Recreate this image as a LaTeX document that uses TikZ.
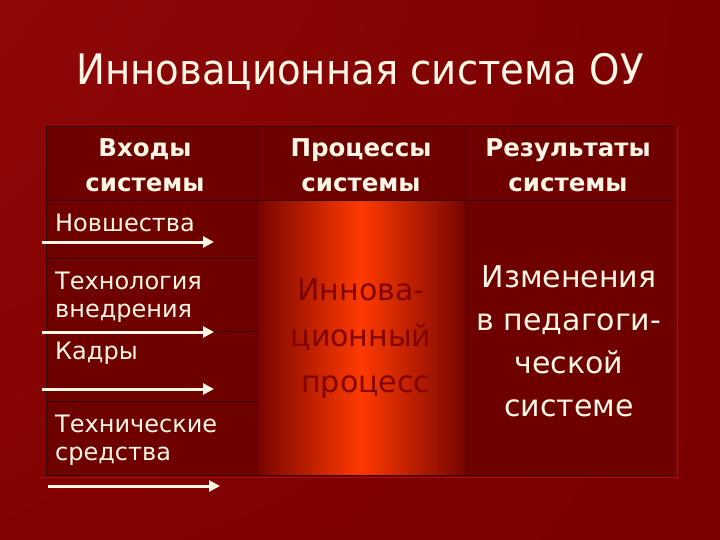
\documentclass[tikz,border=0pt]{standalone}
\usepackage{fontspec}
\setmainfont{DejaVu Sans}
\newfontfamily\titlefont{DejaVu Sans}[FakeStretch=0.92]
\usetikzlibrary{arrows.meta,shadings}
\definecolor{bgred}{HTML}{7A0000}
\definecolor{bglight}{HTML}{900808}
\definecolor{bgmid}{HTML}{820202}
\definecolor{cellred}{HTML}{6E0000}
\definecolor{gridline}{HTML}{3A0000}
\definecolor{hiline}{HTML}{A01010}
\definecolor{cream}{HTML}{FFF6E6}
\definecolor{hot}{HTML}{FF3A00}
\definecolor{edge}{HTML}{780400}
\definecolor{dimred}{HTML}{800400}
\tikzset{
  grid/.style={draw=gridline, line width=1pt},
  lefttxt/.style={anchor=west, text=cream, font=\fontsize{24}{28}\selectfont, inner sep=0pt, align=left},
  headtxt/.style={text=cream, font=\bfseries\fontsize{24.5}{35}\selectfont, inner sep=0pt, align=center},
  inarrow/.style={draw=cream, line width=3pt, -{Triangle[length=11pt,width=11pt]}},
}
\begin{document}
\begin{tikzpicture}[x=1pt,y=-1pt]
\useasboundingbox (0,0) rectangle (720,540);
% background
\shade[upper left=bglight, upper right=bgred, lower left=bgmid, lower right=bgred] (0,0) rectangle (720,540);
% title
\node[text=cream, font=\titlefont\fontsize{42}{48}\selectfont, inner sep=0pt] (title) at (360,72) {Инновационная система ОУ};
% table cells
\fill[cellred] (46,127) rectangle (673,475);
\shade[left color=edge, right color=hot] (257,201) rectangle (361,475);
\shade[left color=hot, right color=edge] (360,201) rectangle (465,475);
% grid
\draw[grid] (46,127) rectangle (673,475);
\draw[grid] (257,127) -- (257,475);
\draw[grid] (465,127) -- (465,475);
\draw[grid] (46,201) -- (673,201);
\draw[grid] (46,258) -- (257,258);
\draw[grid] (46,331) -- (257,331);
\draw[grid] (46,401) -- (257,401);
\draw[hiline, line width=0.6pt] (677,127) -- (677,477) -- (40,477);
% headers
\node[headtxt] (h1) at (145,165) {Входы\\системы};
\node[headtxt] (h2) at (361,165) {Процессы\\системы};
\node[headtxt] (h3) at (568,165) {Результаты\\системы};
% left column
\node[lefttxt, anchor=base west] (n1) at (55,232) {Новшества};
\node[lefttxt] (n2) at (55,297) {Технология\\внедрения};
\node[lefttxt] (n3) at (55,353) {Кадры};
\node[lefttxt] (n4) at (55,440) {Технические\\средства};
% arrows
\coordinate (a1s) at (42,242); \coordinate (a1e) at (214,242);
\coordinate (a2s) at (42,332); \coordinate (a2e) at (214,332);
\coordinate (a3s) at (42,389); \coordinate (a3e) at (214,389);
\coordinate (a4s) at (48,486); \coordinate (a4e) at (220,486);
\draw[inarrow] (a1s) -- (a1e);
\draw[inarrow] (a2s) -- (a2e);
\draw[inarrow] (a3s) -- (a3e);
\draw[inarrow] (a4s) -- (a4e);
% middle
\node[text=dimred, font=\fontsize{30}{46}\selectfont, inner sep=0pt, align=center] (proc) at (361,339) {Иннова-\\ционный\\\ процесс};
% right
\node[text=cream, font=\fontsize{30}{43}\selectfont, inner sep=0pt, align=center] (res) at (569,341) {Изменения\\в педагоги-\\ческой\\системе};
\end{tikzpicture}
\end{document}
